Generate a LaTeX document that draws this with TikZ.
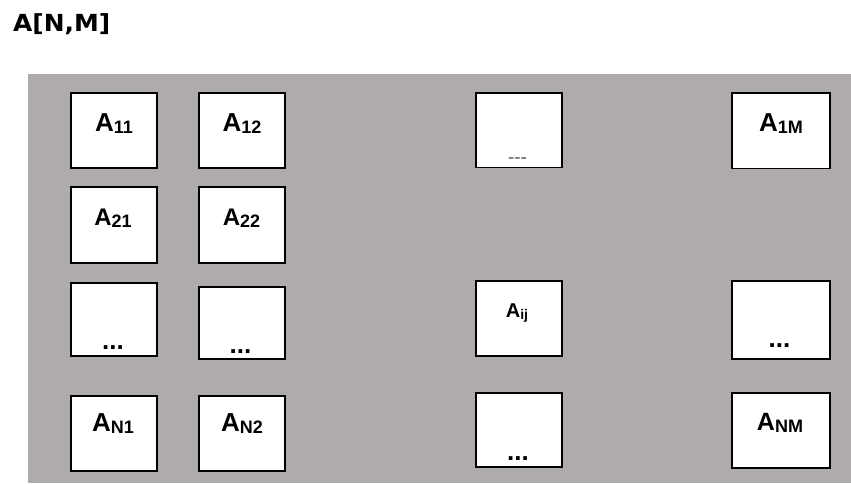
\documentclass[tikz,border=0pt]{standalone}
\usepackage{fontspec}
\setmainfont{Liberation Sans}
\newfontfamily\titlefont{DejaVu Sans}
\definecolor{panelgray}{RGB}{174,171,170}
\definecolor{dashgray}{RGB}{90,90,90}
\tikzset{
  x=1pt, y=-1pt,
  cell/.style={draw=black, line width=1.4pt, fill=white, inner sep=0pt},
  lbl/.style={anchor=base, inner sep=0pt, font=\fontsize{26}{28}\selectfont\bfseries},
  lblsmall/.style={anchor=base, inner sep=0pt, font=\fontsize{20}{22}\selectfont\bfseries},
  dots/.style={anchor=base, inner sep=0pt, font=\fontsize{26}{28}\selectfont\bfseries},
  dashes/.style={anchor=base, inner sep=0pt, text=dashgray, font=\fontsize{19}{20}\selectfont}
}
\newcommand{\cellbox}[5]{\path[cell] (#2,#3) rectangle (#4,#5) node[inner sep=0pt, pos=0.5] (#1) {};}
\newcommand{\sbs}[1]{\raisebox{-2pt}{\fontsize{18}{20}\selectfont #1}}
\newcommand{\sbsm}[1]{\raisebox{-2pt}{\fontsize{14}{16}\selectfont #1}}
\begin{document}
\begin{tikzpicture}
\useasboundingbox (0,0) rectangle (851,483);
\fill[white] (0,0) rectangle (851,483);
\node[anchor=base west, inner sep=0pt] (title) at (13,31.5) {\scalebox{1.06}[1]{\titlefont\fontsize{23.5}{26}\selectfont\bfseries A[N,M]}};
\fill[panelgray] (28,74) rectangle (851,483);
% row 1
\cellbox{b11}{71}{93}{157}{168}
\cellbox{b12}{199}{93}{285}{168}
\cellbox{b1d}{476}{93}{562}{167.5}
\cellbox{b1M}{732}{93}{830}{168.5}
% row 2
\cellbox{b21}{71}{187}{157}{263}
\cellbox{b22}{199}{187}{285}{263}
% row 3
\cellbox{b31}{71}{283}{157}{356}
\cellbox{b32}{199}{287}{285}{359}
\cellbox{bij}{476}{281}{562}{356}
\cellbox{b3M}{732}{281}{830}{359}
% row 4
\cellbox{bN1}{71}{396}{157}{471}
\cellbox{bN2}{199}{396}{285}{471}
\cellbox{bNd}{476}{393}{562}{467}
\cellbox{bNM}{732}{393}{830}{468}
% labels
\node[lbl] (l11) at (114,131) {A\sbs{11}};
\node[lbl] (l12) at (242,131) {A\sbs{12}};
\node[lbl] (l1M) at (781,131) {A\sbs{1M}};
\node[lbl, font=\fontsize{24}{26}\selectfont\bfseries] (l21) at (113,225) {A\sbs{21}};
\node[lbl, font=\fontsize{24}{26}\selectfont\bfseries] (l22) at (241.5,225) {A\sbs{22}};
\node[lblsmall] (lij) at (517,317) {A\sbsm{ij}};
\node[lbl] (lN1) at (113,431.5) {A\sbs{N1}};
\node[lbl] (lN2) at (242,431) {A\sbs{N2}};
\node[lbl, font=\fontsize{25}{27}\selectfont\bfseries] (lNM) at (780,430.5) {A\sbs{NM}};
% ellipses
\node[dashes] (d1d) at (517.5,163.5) {-{}-{}-};
\node[dots] (d31) at (113,349) {...};
\node[dots] (d32) at (240.5,353) {...};
\node[dots] (d3M) at (779.5,347) {...};
\node[dots] (dNd) at (518,460) {...};
\end{tikzpicture}
\end{document}
